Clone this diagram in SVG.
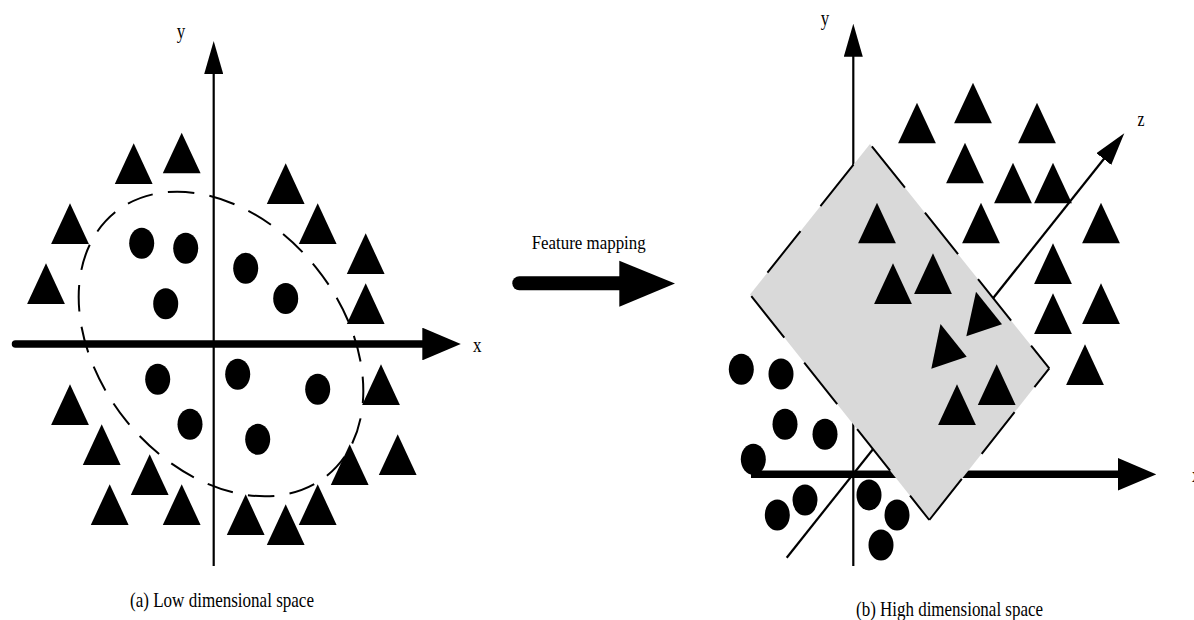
<svg xmlns="http://www.w3.org/2000/svg" xmlns:xlink="http://www.w3.org/1999/xlink" width="1194" height="620" viewBox="0 0 1194 620">
  <style>
    .lbl { font-family: "Liberation Serif", "Times New Roman", serif; font-size: 20px; fill: #000; }
    .cap { font-family: "Liberation Serif", "Times New Roman", serif; font-size: 21px; fill: #000; }
    .fm { font-family: "Liberation Serif", "Times New Roman", serif; font-size: 19px; fill: #000; }
    .thin { stroke: #000; stroke-width: 2.2; fill: none; }
    .thick { stroke: #000; stroke-width: 7.5; fill: none; }
    .circ { stroke: #000; stroke-width: 2; fill: none; stroke-dasharray: 26.5 15.33; stroke-dashoffset: 26.5; }
    .pe { stroke: #000; stroke-width: 2; fill: none; stroke-dasharray: 53 32; }
    .plane { fill: #d9d9d9; stroke: none; }
  </style>
  <defs>
    <marker id="thinHead" markerUnits="userSpaceOnUse" viewBox="0 0 33 19" markerWidth="33" markerHeight="19" refX="2" refY="9.5" orient="auto">
      <path d="M0,0 L33,9.5 L0,19 Z" fill="#000"/>
    </marker>
    <marker id="thickHead" markerUnits="userSpaceOnUse" viewBox="0 0 38.5 32.7" markerWidth="38.5" markerHeight="32.7" refX="3" refY="16.35" orient="auto">
      <path d="M0,0 L38.5,16.35 L0,32.7 Z" fill="#000"/>
    </marker>
    <path id="tri" d="M0,0 L18.9,40.6 L-18.9,40.6 Z" fill="#000"/>
    <ellipse id="dot" cx="0" cy="0" rx="12.5" ry="15.5" fill="#000"/>
  </defs>
  <rect width="1194" height="620" fill="#fff"/>

  <!-- (a) Low dimensional space -->
  <g id="panel-a">
    <g id="a-axes">
      <line class="thick" x1="15.5" y1="344" x2="425.3" y2="344" stroke-linecap="round" marker-end="url(#thickHead)"/>
      <line class="thin" x1="213.7" y1="566" x2="213.7" y2="72" marker-end="url(#thinHead)"/>
      <text class="lbl" x="176.7" y="38.2" textLength="8.5" lengthAdjust="spacingAndGlyphs">y</text>
      <text class="lbl" x="473" y="351.5" textLength="8.5" lengthAdjust="spacingAndGlyphs">x</text>
    </g>
    <ellipse id="a-boundary" class="circ" cx="221" cy="344" rx="169" ry="122" transform="rotate(51.2 221 344)"/>
    <g id="a-circles">
      <use xlink:href="#dot" x="141.7" y="243.3"/>
      <use xlink:href="#dot" x="185.7" y="248.3"/>
      <use xlink:href="#dot" x="245.7" y="268.3"/>
      <use xlink:href="#dot" x="285.7" y="298.5"/>
      <use xlink:href="#dot" x="165.7" y="303.8"/>
      <use xlink:href="#dot" x="157.7" y="379.3"/>
      <use xlink:href="#dot" x="237.7" y="374.3"/>
      <use xlink:href="#dot" x="317.7" y="389.3"/>
      <use xlink:href="#dot" x="190" y="424.3"/>
      <use xlink:href="#dot" x="257.7" y="439.3"/>
    </g>
    <g id="a-triangles">
      <use xlink:href="#tri" x="133.7" y="143.3"/>
      <use xlink:href="#tri" x="181.7" y="132.7"/>
      <use xlink:href="#tri" x="285.7" y="163.3"/>
      <use xlink:href="#tri" x="317.7" y="203.3"/>
      <use xlink:href="#tri" x="70" y="203.3"/>
      <use xlink:href="#tri" x="365.7" y="233.3"/>
      <use xlink:href="#tri" x="46" y="263.3"/>
      <use xlink:href="#tri" x="365.7" y="283.3"/>
      <use xlink:href="#tri" x="381" y="364.3"/>
      <use xlink:href="#tri" x="70" y="384.3"/>
      <use xlink:href="#tri" x="101.7" y="424.3"/>
      <use xlink:href="#tri" x="149.7" y="454.3"/>
      <use xlink:href="#tri" x="397.7" y="434.3"/>
      <use xlink:href="#tri" x="349.7" y="444.3"/>
      <use xlink:href="#tri" x="109.7" y="484.3"/>
      <use xlink:href="#tri" x="181.7" y="484.3"/>
      <use xlink:href="#tri" x="245.7" y="494.3"/>
      <use xlink:href="#tri" x="285.7" y="504.3"/>
      <use xlink:href="#tri" x="317.7" y="484.3"/>
    </g>
    <text class="cap" x="130" y="606.5" textLength="184" lengthAdjust="spacingAndGlyphs">(a) Low dimensional space</text>
  </g>

  <!-- Feature mapping arrow -->
  <g id="mapping">
    <text class="fm" x="531.7" y="249.3" textLength="114" lengthAdjust="spacingAndGlyphs">Feature mapping</text>
    <line x1="519.3" y1="283.3" x2="624" y2="283.3" stroke="#000" stroke-width="14" stroke-linecap="round"/>
    <polygon points="619.3,260.7 675,283.5 619.3,306.7" fill="#000"/>
  </g>

  <!-- (b) High dimensional space -->
  <g id="panel-b">
    <g id="b-axes">
      <line class="thin" x1="853.3" y1="566" x2="853.3" y2="54.7" marker-end="url(#thinHead)"/>
      <line class="thin" x1="786.7" y1="557.7" x2="1105" y2="157.5" marker-end="url(#thinHead)"/>
      <line class="thick" x1="751" y1="474.3" x2="1120.7" y2="474.3" marker-end="url(#thickHead)"/>
      <text class="lbl" x="820.7" y="24.5" textLength="8.5" lengthAdjust="spacingAndGlyphs">y</text>
      <text class="lbl" x="1137.5" y="125.5" textLength="7" lengthAdjust="spacingAndGlyphs">z</text>
      <text class="lbl" x="1192" y="481.5" textLength="8.5" lengthAdjust="spacingAndGlyphs">x</text>
    </g>
    <g id="b-circles">
      <use xlink:href="#dot" x="741.3" y="369.3"/>
      <use xlink:href="#dot" x="781" y="374"/>
      <use xlink:href="#dot" x="785" y="424.3"/>
      <use xlink:href="#dot" x="825" y="434.3"/>
      <use xlink:href="#dot" x="753.3" y="459.3"/>
      <use xlink:href="#dot" x="805" y="500"/>
      <use xlink:href="#dot" x="777.3" y="515"/>
      <use xlink:href="#dot" x="869" y="495"/>
      <use xlink:href="#dot" x="897" y="515"/>
      <use xlink:href="#dot" x="881" y="545"/>
    </g>
    <g id="b-plane">
      <polygon class="plane" points="870,144 1049.3,368.3 929.3,520 750,294.5"/>
      <line class="pe" x1="750" y1="294.5" x2="870" y2="144" stroke-dashoffset="57"/>
      <line class="pe" x1="870" y1="144" x2="1049.3" y2="368.3" stroke-dashoffset="82"/>
      <line class="pe" x1="1049.3" y1="368.3" x2="929.3" y2="520" stroke-dashoffset="29"/>
      <line class="pe" x1="929.3" y1="520" x2="750" y2="294.5" stroke-dashoffset="22"/>
    </g>
    <g id="b-triangles">
      <use xlink:href="#tri" x="917" y="102.7"/>
      <use xlink:href="#tri" x="973" y="82.7"/>
      <use xlink:href="#tri" x="1037" y="102.7"/>
      <use xlink:href="#tri" x="965" y="142.7"/>
      <use xlink:href="#tri" x="1013" y="162.7"/>
      <use xlink:href="#tri" x="1053" y="162.7"/>
      <use xlink:href="#tri" x="877" y="202.7"/>
      <use xlink:href="#tri" x="981" y="202.7"/>
      <use xlink:href="#tri" x="1101" y="202.7"/>
      <use xlink:href="#tri" x="933" y="253.3"/>
      <use xlink:href="#tri" x="893" y="263.3"/>
      <use xlink:href="#tri" x="1053" y="243.3"/>
      <use xlink:href="#tri" x="1101" y="283.3"/>
      <use xlink:href="#tri" x="1053" y="293.3"/>
      <use xlink:href="#tri" x="1085" y="344.3"/>
      <use xlink:href="#tri" x="996.7" y="364.3"/>
      <use xlink:href="#tri" x="957" y="384.3"/>
      <polygon points="976,291.7 1002,324.2 966.3,336.3" fill="#000"/>
      <polygon points="940.5,324 966.7,356.7 931.3,368.7" fill="#000"/>
    </g>
    <text class="cap" x="856" y="615.5" textLength="187" lengthAdjust="spacingAndGlyphs">(b) High dimensional space</text>
  </g>
</svg>
